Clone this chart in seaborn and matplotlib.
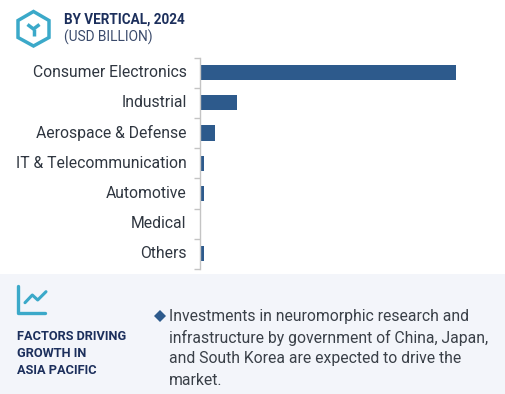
import matplotlib
matplotlib.use("Agg")
import matplotlib.pyplot as plt
from matplotlib.patches import Rectangle, Polygon
import seaborn as sns
import pandas as pd

categories = ["Consumer Electronics", "Industrial", "Aerospace & Defense",
              "IT & Telecommunication", "Automotive", "Medical", "Others"]
values = [5.10, 0.75, 0.31, 0.08, 0.08, 0.0, 0.08]
title_lines = ["BY VERTICAL, 2024", "(USD BILLION)"]
factor_lines = ["FACTORS DRIVING", "GROWTH IN", "ASIA PACIFIC"]
body_lines = ["Investments in neuromorphic research and",
              "infrastructure by government of China, Japan,",
              "and South Korea are expected to drive the",
              "market."]

W, H = 505, 394
sns.set_theme(style="white")
plt.rcParams["font.family"] = ["Roboto", "DejaVu Sans"]

fig = plt.figure(figsize=(W / 100, H / 100), dpi=100, facecolor="white")
bg = fig.add_axes([0, 0, 1, 1], zorder=0)
bg.set_xlim(0, W); bg.set_ylim(H, 0); bg.axis("off")

NAVY = "#1c2f5c"; TEAL = "#3ba9c9"; BAR = "#2d5a8c"; GREY = "#3a4048"

# panel
bg.add_patch(Rectangle((0, 274), W, 120, color="#f3f5fa", lw=0))

# hexagon icon
bg.add_patch(Polygon([(33.5, 11.5), (49, 20.5), (49, 37.5), (33.5, 46), (18, 37.5), (18, 20.5)],
                     closed=True, fill=False, ec=TEAL, lw=2.5, joinstyle="miter"))
bg.plot([27.5, 33.5, 39.5], [24.5, 29, 24.5], color=TEAL, lw=2.5, solid_capstyle="butt")
bg.plot([33.5, 33.5], [29, 36], color=TEAL, lw=2.5, solid_capstyle="butt")

# line-chart icon
bg.plot([18, 18, 45], [286, 312.5, 312.5], color=TEAL, lw=2.4, solid_joinstyle="round", solid_capstyle="round")
bg.plot([25, 32.3, 37.7, 46], [302.7, 295, 300, 291.7], color=TEAL, lw=2.2, solid_capstyle="round")

# header
bg.text(64, 19.5, title_lines[0], fontsize=9.75, fontweight="bold", color=NAVY, va="center", ha="left")
bg.text(64, 37, title_lines[1], fontsize=9.9, color="#3a4a6b", va="center", ha="left")

# factors
for y, t in zip([337, 353.5, 370.5], factor_lines):
    bg.text(17, y, t, fontsize=9.2, fontweight="bold", color=NAVY, va="center", ha="left")

# body
bg.add_patch(Polygon([(154, 316), (160, 310), (166, 316), (160, 322)], closed=True, color=BAR, lw=0))
for y, t in zip([316, 337.5, 359, 380.5], body_lines):
    bg.text(169, y, t, fontsize=11.35, color=GREY, va="center", ha="left")

# bars
ax = fig.add_axes([199.7 / W, 1 - 269 / H, (456 - 199.7) / W, (269 - 57.5) / H], zorder=1)
ax.patch.set_alpha(0)
df = pd.DataFrame({"category": categories, "value": values})
sns.barplot(data=df, y="category", x="value", orient="h", color=BAR, saturation=1,
            width=0.5, ax=ax, edgecolor="none")
ax.set_xlim(0, 5.10)
ax.set_ylim(len(categories) - 0.5, -0.5)
ax.set_xlabel(""); ax.set_ylabel("")
ax.set_xticks([])
ax.set_yticks([i - 0.5 for i in range(len(categories) + 1)], minor=False)
ax.set_yticklabels([""] * (len(categories) + 1))
ax.tick_params(axis="y", length=4, width=1, color="#c4c4c4", left=True, pad=0)
for s in ["top", "right", "bottom"]:
    ax.spines[s].set_visible(False)
ax.spines["left"].set_color("#c4c4c4")
ax.spines["left"].set_linewidth(1)
for i, c in enumerate(categories):
    ax.annotate(c, xy=(0, i), xycoords=("axes fraction", "data"), xytext=(-13, 0),
                textcoords="offset pixels", ha="right", va="center",
                fontsize=11.3, color="#2f3640", annotation_clip=False)

fig.savefig("out.png", dpi=100)
